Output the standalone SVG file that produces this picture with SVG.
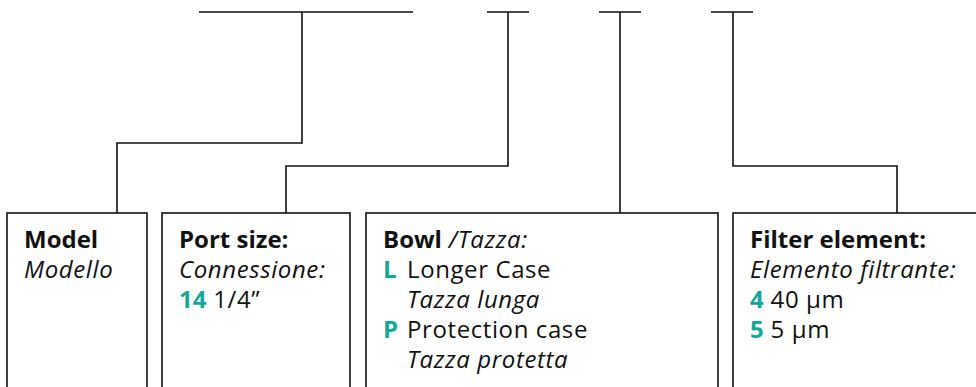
<svg xmlns="http://www.w3.org/2000/svg" width="976" height="387" viewBox="0 0 976 387">
<style>
.ln{fill:none;stroke:#111;stroke-width:1.6}
.bx{fill:#fff;stroke:#111;stroke-width:1.6}
text{font-family:"Open Sans","Noto Sans",sans-serif;font-size:24px;fill:#111;letter-spacing:0.6px}
.b{font-weight:bold;letter-spacing:0}
.i{font-style:italic}
.t{fill:#14a89c;font-weight:bold;letter-spacing:0}
</style>
<g id="connectors">
<path class="ln" d="M199,12H413M302,12V143H117V213"/>
<path class="ln" d="M487,12H529M508,12V166H286V213"/>
<path class="ln" d="M599,12H641M620,12V213"/>
<path class="ln" d="M711,12H753M733,12V166H897V213"/>
</g>
<g id="model">
<rect class="bx" x="7" y="213" width="140" height="190"/>
<text x="24" y="248" class="b">Model</text>
<text x="24" y="278" class="i">Modello</text>
</g>
<g id="port">
<rect class="bx" x="162" y="213" width="188" height="190"/>
<text x="179" y="248" class="b">Port size:</text>
<text x="179" y="278" class="i">Connessione:</text>
<text x="179" y="308"><tspan class="t">14</tspan> 1/4”</text>
</g>
<g id="bowl">
<rect class="bx" x="366" y="213" width="352" height="190"/>
<text x="383" y="248"><tspan class="b">Bowl</tspan> <tspan class="i">/Tazza:</tspan></text>
<text x="383" y="278" class="t">L</text>
<text x="407" y="278">Longer Case</text>
<text x="407" y="308" class="i">Tazza lunga</text>
<text x="383" y="338" class="t">P</text>
<text x="407" y="338">Protection case</text>
<text x="407" y="368" class="i">Tazza protetta</text>
</g>
<g id="filter">
<rect class="bx" x="733" y="213" width="260" height="190"/>
<text x="750" y="248" class="b">Filter element:</text>
<text x="750" y="278" class="i">Elemento filtrante:</text>
<text x="750" y="308"><tspan class="t">4</tspan> 40 µm</text>
<text x="750" y="338"><tspan class="t">5</tspan> 5 µm</text>
</g>
</svg>
